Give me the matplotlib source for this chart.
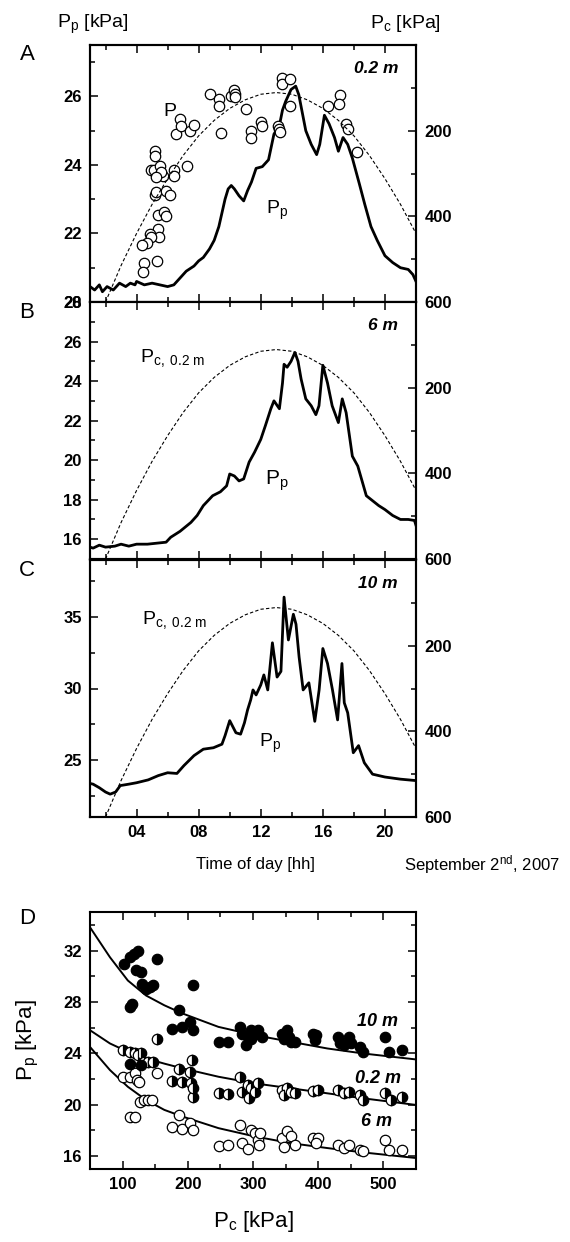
import numpy as np
import matplotlib.pyplot as plt
from matplotlib.ticker import FixedLocator

plt.rcParams['font.family'] = ['Liberation Sans', 'DejaVu Sans']
plt.rcParams['mathtext.fontset'] = 'custom'
plt.rcParams['mathtext.rm'] = 'Liberation Sans'
plt.rcParams['mathtext.it'] = 'Liberation Sans:italic'
plt.rcParams['mathtext.bf'] = 'Liberation Sans:bold'

# Pc at 0.2 m (dashed curve, right axis, kPa)
pc_hour = [2, 3, 4, 5, 6, 7, 8, 9, 10, 11, 12, 13, 14, 15, 16, 17, 18, 19, 20, 21, 22]
pc_kpa = [600, 515, 440, 372, 312, 258, 212, 176, 148, 128, 115, 111, 115, 128, 148, 176, 212, 258, 312, 372, 440]

# panel A, 0.2 m
a_hour = [1.0, 1.3, 1.6, 1.8, 2.1, 2.5, 2.9, 3.3, 3.6, 3.9, 4.0, 4.5, 5.0, 5.5, 6.0, 6.4, 6.8,
          7.2, 7.7, 8.0, 8.3, 8.7, 9.0, 9.3, 9.5, 9.7, 9.9, 10.1, 10.3, 10.6, 10.9, 11.15, 11.4,
          11.7, 12.1, 12.5, 12.85, 13.2, 13.4, 13.6, 13.95, 14.25, 14.45, 14.6, 14.9, 15.25, 15.6,
          15.8, 16.1, 16.4, 16.75, 17.0, 17.3, 17.6, 17.9, 18.35, 18.7, 19.1, 19.5, 20.0, 20.5,
          21.0, 21.5, 21.8, 22.0]
a_pp = [20.45, 20.35, 20.5, 20.3, 20.45, 20.35, 20.55, 20.45, 20.55, 20.5, 20.6, 20.5, 20.55, 20.5,
        20.45, 20.5, 20.7, 20.9, 21.05, 21.2, 21.3, 21.55, 21.8, 22.2, 22.6, 23.0, 23.3,
        23.4, 23.3, 23.1, 22.95, 23.25, 23.5, 23.9, 23.95, 24.15, 24.9, 25.15, 25.6, 25.85, 26.2,
        26.3, 26.05, 25.7, 25.0, 24.6, 24.3, 24.6, 25.45, 25.2, 24.8, 24.4, 24.8, 24.6, 24.2,
        23.45, 22.85, 22.2, 21.8, 21.35, 21.15, 21.0, 20.95, 20.8, 20.6]
a_obs_hour = [5.2, 5.2, 4.95, 5.12, 5.52, 5.68, 5.58, 5.26, 6.38, 6.42, 7.26, 5.16, 5.26, 5.9, 6.17,
              5.37, 5.79, 5.89, 5.41, 5.47, 4.84, 4.95, 4.69, 4.32, 5.33, 4.48, 4.42, 6.53, 6.8,
              6.88, 7.47, 7.68, 8.74, 9.33, 9.33, 9.47, 10.1, 10.25, 10.34, 10.34, 11.03, 11.35,
              11.35, 12.0, 12.06, 13.08, 13.18, 13.23, 13.4, 13.4, 13.87, 13.87, 16.34, 17.1,
              17.05, 17.48, 17.6, 18.19]
a_obs_pp = [24.42, 24.25, 23.85, 23.85, 23.98, 23.67, 23.79, 23.64, 23.85, 23.69, 23.98, 23.11,
            23.2, 23.25, 23.11, 22.55, 22.62, 22.52, 22.14, 21.91, 21.97, 21.89, 21.72, 21.65,
            21.21, 21.14, 20.89, 24.9, 25.34, 25.15, 24.98, 25.17, 26.07, 25.92, 25.73, 24.92,
            26.02, 26.2, 26.07, 25.97, 25.63, 25.0, 24.8, 25.24, 25.15, 25.15, 25.05, 24.95,
            26.55, 26.36, 26.52, 25.73, 25.73, 26.05, 25.78, 25.19, 25.05, 24.37]

# panel B, 6 m
b_hour = [1.0, 1.2, 1.6, 2.0, 2.6, 3.0, 3.5, 4.0, 4.7, 5.3, 5.9, 6.2, 6.8, 7.5, 7.9, 8.3, 8.9, 9.4,
          9.8, 10.0, 10.3, 10.6, 10.9, 11.25, 11.6, 12.0, 12.3, 12.65, 12.85, 13.2, 13.4, 13.5,
          13.7, 13.95, 14.2, 14.4, 14.6, 14.9, 15.25, 15.55, 15.75, 16.0, 16.3, 16.6, 17.0,
          17.25, 17.5, 17.9, 18.25, 18.8, 19.2, 19.6, 20.0, 20.5, 21.0, 21.5, 21.9, 22.0]
b_pp = [15.6, 15.55, 15.7, 15.6, 15.65, 15.75, 15.65, 15.75, 15.75, 15.8, 15.85, 16.1, 16.4, 16.85,
        17.2, 17.7, 18.2, 18.4, 18.7, 19.3, 19.2, 18.95, 19.05, 19.9, 20.4, 21.05, 21.75, 22.6,
        23.0, 22.6, 23.9, 24.85, 24.7, 25.0, 25.45, 25.0, 24.1, 23.1, 22.75, 22.3, 22.75, 24.8,
        23.9, 22.75, 21.9, 23.1, 22.4, 20.2, 19.7, 18.2, 17.95, 17.7, 17.5, 17.2, 17.0, 17.0,
        16.95, 16.7]

# panel C, 10 m
c_hour = [1.0, 1.2, 1.6, 2.0, 2.3, 2.65, 2.95, 3.5, 4.0, 4.75, 5.4, 6.0, 6.6, 7.05, 7.7, 8.3, 8.95,
          9.5, 9.7, 10.0, 10.4, 10.7, 10.95, 11.15, 11.35, 11.5, 11.7, 12.0, 12.2, 12.45, 12.75,
          13.05, 13.3, 13.5, 13.78, 14.1, 14.27, 14.47, 14.73, 15.1, 15.48, 15.76, 16.0, 16.3,
          16.62, 16.95, 17.23, 17.38, 17.6, 17.96, 18.3, 18.67, 19.2, 20.0, 21.0, 22.0]
c_pp = [23.35, 23.3, 23.05, 22.75, 22.6, 22.75, 23.2, 23.3, 23.4, 23.6, 23.9, 24.1, 24.05, 24.6,
        25.3, 25.75, 25.85, 26.1, 26.7, 27.75, 26.9, 26.8, 27.6, 28.5, 29.2, 29.9, 29.55, 30.25,
        30.95, 29.9, 33.2, 30.8, 31.2, 36.4, 33.4, 35.2, 34.5, 32.2, 29.9, 30.4, 27.7, 29.9,
        32.8, 31.75, 29.9, 27.8, 31.75, 29.0, 28.3, 25.5, 26.0, 24.8, 24.0, 23.8, 23.65, 23.55]

# panel D: Pp against Pc
d10_pc = [102.8, 111, 118, 124, 120.6, 127.8, 129.4, 136, 141.7, 147.2, 111, 113.9, 152.8, 186,
          175, 191.7, 202.8, 208.3, 208.3, 247.2, 261, 280.6, 283.3, 288.9, 291.7, 297.2, 302.8,
          308.3, 313.9, 297.2, 344.4, 352.8, 355.6, 358.3, 363.9, 347.2, 391.7, 397.2, 394.4,
          430.6, 433.3, 438.9, 447.2, 450, 463.9, 469.4, 502.8, 508.3, 527.8, 111, 127.8]
d10_pp = [30.97, 31.48, 31.74, 32.0, 30.45, 30.32, 29.42, 29.03, 29.16, 29.29, 27.61, 27.87, 31.35,
          27.35, 25.93, 26.06, 26.44, 25.8, 29.29, 24.9, 24.9, 26.06, 25.54, 24.64, 25.28, 25.8,
          25.54, 25.8, 25.28, 25.15, 25.54, 25.8, 25.28, 24.9, 24.9, 25.15, 25.54, 25.41, 25.02,
          25.28, 24.77, 24.64, 25.28, 24.77, 24.5, 24.12, 25.28, 24.12, 24.25, 23.2, 23.1]
d02_pc = [100, 111, 119.4, 127.8, 123.9, 133.3, 138.9, 147.2, 152.8, 186.1, 175, 191.7, 202.8,
          207.2, 205.6, 208.3, 208.3, 247.2, 261.1, 280.6, 283.3, 291.7, 297.2, 302.8, 308.3,
          294.4, 344.4, 352.8, 358.3, 347.2, 363.9, 391.7, 400, 430.6, 438.9, 447.2, 463.9,
          469.4, 502.8, 511.1, 527.8]
d02_pp = [24.25, 24.12, 23.99, 23.99, 23.86, 23.34, 23.34, 23.34, 25.15, 22.75, 21.87, 21.79, 22.57,
          23.47, 21.66, 20.63, 21.28, 20.94, 20.84, 22.18, 21.02, 21.53, 21.28, 21.02, 21.66,
          20.5, 21.15, 21.28, 21.02, 20.76, 20.89, 21.1, 21.15, 21.15, 20.89, 21.02, 20.76,
          20.37, 20.89, 20.37, 20.63]
d6_pc = [100, 111, 119.4, 122.2, 125, 126.7, 133.3, 138.9, 144.4, 152.8, 111, 118.3, 186.1, 175,
         191.7, 202.8, 208.3, 247.2, 261.1, 280.6, 283.3, 291.7, 297.2, 302.8, 308.3, 311.1,
         309.4, 344.4, 352.8, 358.3, 347.2, 363.9, 391.7, 400, 397.2, 430.6, 438.9, 447.2,
         463.9, 469.4, 502.8, 508.3, 527.8]
d6_pp = [22.18, 22.18, 22.44, 21.92, 21.79, 20.24, 20.37, 20.37, 20.37, 22.44, 19.08, 19.08, 19.21,
         18.3, 18.1, 18.56, 18.05, 16.81, 16.88, 18.43, 17.01, 16.55, 18.05, 17.79, 17.27, 17.79,
         16.88, 17.4, 17.92, 17.53, 16.75, 16.88, 17.4, 17.4, 17.01, 16.88, 16.63, 16.88, 16.5,
         16.37, 17.27, 16.5, 16.44]
fit_pc = [50, 80.6, 108, 136, 164, 192, 247, 303, 358, 414, 469, 551]
fit10 = [33.81, 31.48, 29.67, 28.5, 27.74, 27.1, 26.06, 25.41, 24.9, 24.38, 23.99, 23.52]
fit02 = [25.8, 24.77, 24.12, 23.6, 23.2, 22.83, 22.18, 21.66, 21.28, 20.89, 20.5, 19.98]
fit6 = [24.5, 22.7, 21.4, 20.37, 19.6, 19.08, 18.18, 17.53, 17.01, 16.63, 16.29, 15.85]

W_PX, H_PX = 570, 1242
fig = plt.figure(figsize=(W_PX / 100, H_PX / 100), dpi=100)


def box(left, top, right, bottom):
    return [left / W_PX, 1 - bottom / H_PX, (right - left) / W_PX, (bottom - top) / H_PX]


def style(ax, right=True):
    for s in ax.spines.values():
        s.set_linewidth(1.5)
    ax.tick_params(which='both', direction='in', top=True, right=right, width=1.1,
                   labelsize=12, pad=6)
    ax.tick_params(which='major', length=6)
    ax.tick_params(which='minor', length=3.5)


def bold_labels(ax):
    plt.setp(ax.get_xticklabels(), fontweight='bold')
    plt.setp(ax.get_yticklabels(), fontweight='bold')


panels = [
    (box(90, 45, 416, 302), a_hour, a_pp, (20, 27.5), [20, 22, 24, 26], [21, 23, 25, 27], '0.2 m'),
    (box(90, 302, 416, 559), b_hour, b_pp, (15, 28), [16, 18, 20, 22, 24, 26, 28],
     [15, 17, 19, 21, 23, 25, 27], '6 m'),
    (box(90, 560, 416, 817), c_hour, c_pp, (21, 39), [25, 30, 35], [22.5, 27.5, 32.5, 37.5], '10 m'),
]

axes = []
for i, (rect, hh, pp, ylim, yt, ymt, depth) in enumerate(panels):
    ax = fig.add_axes(rect)
    ax.plot(hh, pp, color='black', lw=2.0, zorder=3)
    ax.set_xlim(1, 22)
    ax.set_ylim(*ylim)
    ax.xaxis.set_major_locator(FixedLocator([4, 8, 12, 16, 20]))
    ax.xaxis.set_minor_locator(FixedLocator([2, 6, 10, 14, 18]))
    ax.yaxis.set_major_locator(FixedLocator(yt))
    ax.yaxis.set_minor_locator(FixedLocator(ymt))
    ax.set_xticklabels(['04', '08', '12', '16', '20'])
    style(ax, right=False)
    if i < 2:
        ax.tick_params(labelbottom=False)
    ax.text(0.945, 0.91, depth, transform=ax.transAxes, ha='right', va='center',
            fontsize=12.5, fontweight='bold', fontstyle='italic')
    bold_labels(ax)

    axr = ax.twinx()
    axr.plot(pc_hour, pc_kpa, color='black', lw=0.8, ls=(0, (3, 2)))
    axr.set_ylim(600, 0)
    axr.yaxis.set_major_locator(FixedLocator([200, 400, 600]))
    axr.yaxis.set_minor_locator(FixedLocator([100, 300, 500]))
    style(axr)
    axr.tick_params(which='both', left=False, top=False)
    bold_labels(axr)
    axes.append(ax)

axA, axB, axC = axes
axA.plot(a_obs_hour, a_obs_pp, 'o', ms=7.5, mfc='white', mec='black', mew=0.9, zorder=4)
axA.text(5.71, 25.43, 'P', fontsize=14, va='baseline')
axA.text(12.35, 22.57, r'P$_\mathrm{p}$', fontsize=14, va='baseline')
axB.text(4.23, 24.96, r'P$_\mathrm{c,\ 0.2\ m}$', fontsize=14, va='baseline')
axB.text(12.29, 18.74, r'P$_\mathrm{p}$', fontsize=15, va='baseline')
axC.text(4.35, 34.5, r'P$_\mathrm{c,\ 0.2\ m}$', fontsize=14, va='baseline')
axC.text(11.9, 25.9, r'P$_\mathrm{p}$', fontsize=14, va='baseline')

# panel D
axD = fig.add_axes(box(90, 912, 416, 1169))
for yy in (fit10, fit02, fit6):
    axD.plot(fit_pc, yy, color='black', lw=1.4, zorder=2)
axD.plot(d6_pc, d6_pp, 'o', ms=7.5, mfc='white', mec='black', mew=0.9, zorder=3)
axD.plot(d02_pc, d02_pp, 'o', ms=7.5, fillstyle='right', mfc='black', mfcalt='white',
         mec='black', mew=0.9, zorder=3)
axD.plot(d10_pc, d10_pp, 'o', ms=7.5, mfc='black', mec='black', mew=0.9, zorder=3)
axD.set_xlim(50, 550)
axD.set_ylim(15, 35)
axD.xaxis.set_major_locator(FixedLocator([100, 200, 300, 400, 500]))
axD.xaxis.set_minor_locator(FixedLocator([150, 250, 350, 450]))
axD.yaxis.set_major_locator(FixedLocator([16, 20, 24, 28, 32]))
axD.yaxis.set_minor_locator(FixedLocator([18, 22, 26, 30, 34]))
style(axD)
bold_labels(axD)
for txt, x, y in (('10 m', 491.7, 26.44), ('0.2 m', 491.7, 22.05), ('6 m', 489, 18.7)):
    axD.text(x, y, txt, ha='center', va='center', fontsize=13, fontweight='bold',
             fontstyle='italic')

# figure texts
fig.text(57 / W_PX, 1 - 28 / H_PX, r'P$_\mathrm{p}$ [kPa]', fontsize=14, va='baseline')
fig.text(370 / W_PX, 1 - 28 / H_PX, r'P$_\mathrm{c}$ [kPa]', fontsize=14, va='baseline')
for lab, y in (('A', 55), ('B', 313), ('C', 571), ('D', 919)):
    fig.text(27 / W_PX, 1 - y / H_PX, lab, fontsize=16, ha='center', va='center')
fig.text(255 / W_PX, 1 - 865 / H_PX, 'Time of day [hh]', fontsize=12, ha='center', va='center')
fig.text(482 / W_PX, 1 - 865 / H_PX, r'September 2$^\mathrm{nd}$, 2007', fontsize=12,
         ha='center', va='center')
fig.text(253 / W_PX, 1 - 1222 / H_PX, r'P$_\mathrm{c}$ [kPa]', fontsize=16, ha='center', va='center')
fig.text(28 / W_PX, 1 - 1040 / H_PX, r'P$_\mathrm{p}$ [kPa]', fontsize=16, ha='center', va='center',
         rotation=90)

fig.savefig('out.png', dpi=100)
